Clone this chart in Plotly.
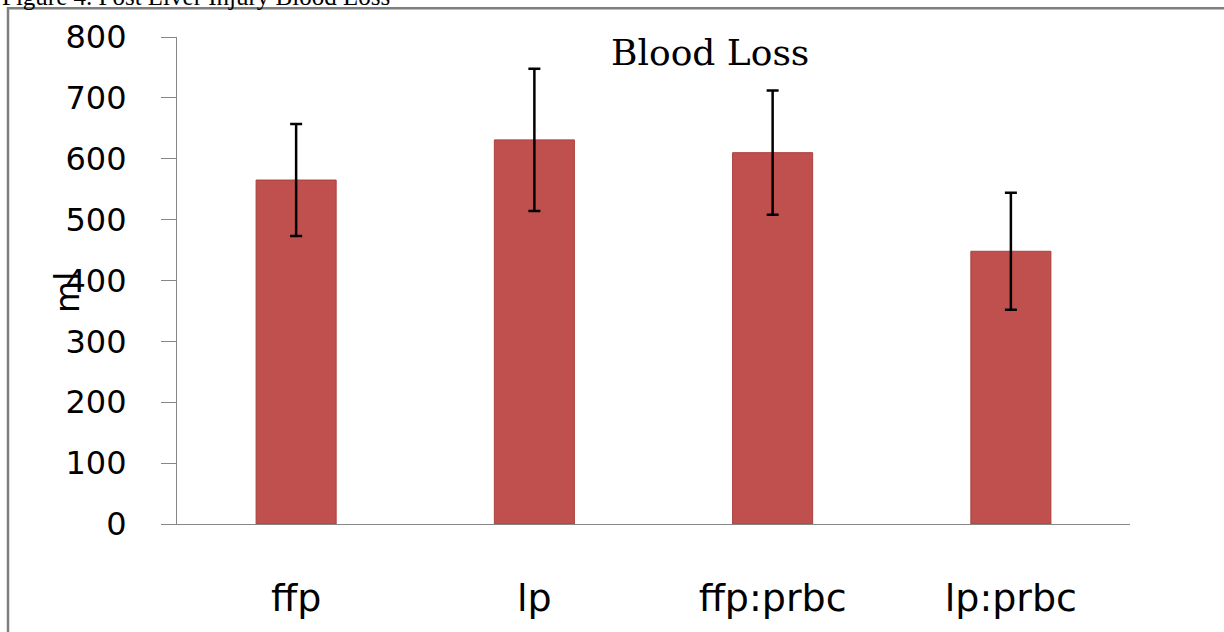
import plotly.graph_objects as go

categories = ["ffp", "lp", "ffp:prbc", "lp:prbc"]
blood_loss = [565, 631, 610, 448]
errors = [92, 117, 102, 96]
y_ticks = [0, 100, 200, 300, 400, 500, 600, 700, 800]

W, H = 1224, 632
L, R, T, B = 177, 1130, 37, 528

def px_x(p):
    return (p - L) / (R - L)

def px_y(p):
    return (B - p) / (B - T)

fig = go.Figure()
fig.add_trace(go.Bar(
    x=categories, y=blood_loss, width=0.336,
    marker=dict(color="#C0504D", line=dict(color="#A9413E", width=1)),
    error_y=dict(type="data", array=errors, visible=True,
                 color="black", thickness=2.5, width=6),
    showlegend=False,
))

fig.update_layout(
    width=W, height=H,
    margin=dict(l=L, r=W - R, t=T, b=H - B, pad=0),
    paper_bgcolor="white", plot_bgcolor="white",
    xaxis=dict(showline=True, linecolor="#868686", linewidth=1.2,
               ticks="", showgrid=False, zeroline=False,
               tickfont=dict(family="DejaVu Sans", size=38, color="black"),
               ticklabelstandoff=40),
    yaxis=dict(range=[0, 800], tickvals=y_ticks, showline=True,
               linecolor="#868686", linewidth=1.2, ticks="outside",
               ticklen=15, tickcolor="#868686", tickwidth=1.2,
               showgrid=False, zeroline=False,
               tickfont=dict(family="DejaVu Sans", size=32, color="black"),
               ticklabelstandoff=28),
    shapes=[dict(type="rect", xref="paper", yref="paper",
                 x0=px_x(8), x1=px_x(1300), y0=px_y(8), y1=px_y(700),
                 line=dict(color="#7f7f7f", width=2.5), layer="below")],
    annotations=[
        dict(text="Blood Loss", xref="paper", yref="paper",
             x=px_x(710), y=px_y(53), xanchor="center", yanchor="middle",
             showarrow=False, font=dict(family="DejaVu Serif", size=36, color="black")),
        dict(text="ml", xref="paper", yref="paper", textangle=-90,
             x=px_x(68), y=px_y(295), xanchor="center", yanchor="middle",
             showarrow=False, font=dict(family="DejaVu Sans", size=33, color="black")),
        dict(text="Figure 4. Post Liver Injury Blood Loss", xref="paper", yref="paper",
             x=px_x(0), y=px_y(-4), xanchor="left", yanchor="middle",
             showarrow=False, font=dict(family="Liberation Serif", size=25, color="black")),
    ],
)

fig.write_html("out.html", config={"displayModeBar": False},
               post_script="document.body.style.margin='0';document.body.style.overflow='hidden';")
